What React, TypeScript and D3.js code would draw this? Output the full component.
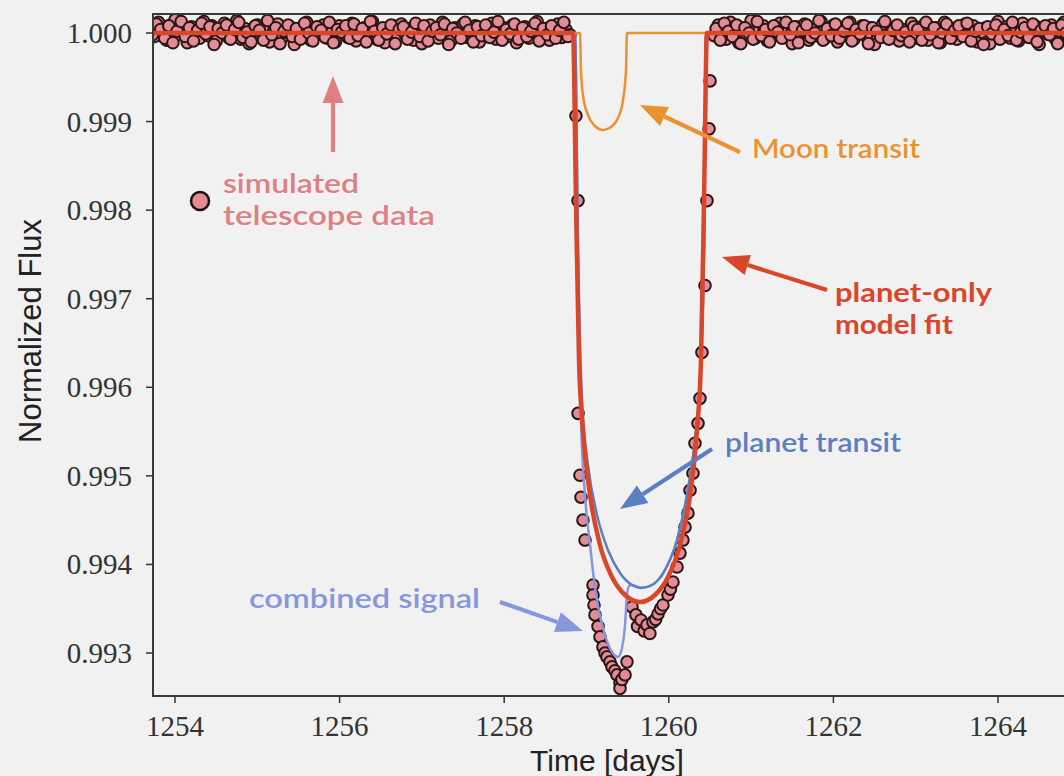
import React from 'react';
import * as d3 from 'd3';

// out-of-transit photometry, offsets from 1.0 in ppm, one value per cadence
const quietStarts = [1253.7, 1260.55];
const cadence = 0.05;
const quietLeft = [
  60, -40, 120, 30, -80, 90, 150, -20, 40, -110,
  70, 10, -60, 130, -30, 80, -90, 20, 110, -50,
  0, 140, -70, 50, -120, 30, 90, -40, 60, -100,
  20, 100, -60, 10, 70, -130, 40, -20, 120, -80,
  50, -10, 90, -60, 30, -100, 80, 0, -50, 110,
  -90, 20, 60, -30, 130, -70, 40, -110, 10, 80,
  -40, 100, -20, 50, -80, 70, -120, 30, 90, -10,
  -60, 120, 20, -90, 60, -30, 100, -50, 10, 80,
  -100, 40, -20, 110, -70, 30, 60, -40, 90, -110,
  20, 70, -60, 10, 130, -30, 50, -80, 20, 100,
  -50, 40, -20,
];
// the in-between cadences (offset by half a step)
const quietLeftB = [
  -20, 100, 40, -60, 80, -110, 20, 130, -40, 60,
  -90, 30, 110, -10, 70, -130, 50, 0, 90, -70,
  40, 120, -50, 10, -100, 80, 30, -80, 140, -20,
  60, -120, 20, 90, -40, 50, -70, 110, 0, -90,
  70, 30, -50, 120, -110, 40, 10, 80, -60, 100,
  -30, 50, -100, 130, 20, -80, 60, -10, 90, -120,
  40, 70, -70, 10, 110, -40, 80, -90, 20, 60,
  -20, 100, -130, 50, 0, -60, 120, 30, -100, 70,
  -30, 90, -50, 10, 130, -80, 40, -10, 100, -70,
  60, -40, 20, 110, -90, 50, -20, 80, -60, 30,
  120, -40,
];
const quietRight = [
  -30, 90, 40, -70, 120, 10, -110, 60, -20, 140,
  -60, 30, 80, -90, 50, -10, 110, -50, 20, -120,
  70, 0, 100, -80, 40, -30, 130, -60, 10, 90,
  -100, 50, -20, 120, -70, 30, 80, -40, 60, -130,
  20, 100, -50, 10, 70, -90, 40, -10, 110, -60,
  30, 90, -80, 0, 60, -110, 120, -30, 50, -70,
  20, 100, -40, 80, -100, 10, 60, -120, 40, 130,
  -20, 70, -60, 30, -90, 110, 0, -50, 80, -130,
  50, -10, 90, -70, 20, 120, -40, 60, -100, 10,
  -30, 70,
];
const quietRightB = [
  50, -80, 110, 20, -40, 90, -120, 60, 0, -70,
  130, -30, 40, -100, 80, 10, -60, 120, -20, 70,
  -110, 30, 90, -50, 0, 140, -80, 50, -30, 100,
  -60, 20, 110, -90, 40, -10, 80, -120, 60, 20,
  -50, 130, -70, 30, 90, -30, 10, -100, 70, 40,
  -80, 120, -20, 60, -110, 0, 100, -60, 30, 80,
  -40, 110, -90, 20, 50, -130, 70, -10, 90, -70,
  40, -30, 120, -80, 10, 60, -50, 100, -100, 30,
  80, -20, 50, -120, 90, 0, -60, 110, -40, 20,
  -90,
];

// in-transit photometry
const dipTimes = [
  1258.872, 1258.897, 1258.897, 1258.921, 1258.933, 1258.957, 1258.982,
  1259.079, 1259.079, 1259.091, 1259.103, 1259.140, 1259.164, 1259.200,
  1259.225, 1259.249, 1259.285, 1259.310, 1259.345, 1259.371, 1259.407,
  1259.407, 1259.430, 1259.468, 1259.492, 1259.553, 1259.601, 1259.620,
  1259.662, 1259.700, 1259.735, 1259.770, 1259.808, 1259.840, 1259.869,
  1259.900, 1259.929, 1259.990, 1260.020, 1260.051, 1260.100, 1260.136,
  1260.172, 1260.197, 1260.233, 1260.258, 1260.294, 1260.318, 1260.355,
  1260.379, 1260.403, 1260.440, 1260.464, 1260.489, 1260.501,
];
const dipFlux = [
  0.999065, 0.998107, 0.995706, 0.995007, 0.994759, 0.9945, 0.994275,
  0.993768, 0.993655, 0.993542, 0.99343, 0.9933, 0.993182, 0.993069,
  0.993, 0.992956, 0.9929, 0.992843, 0.9928, 0.992753, 0.992663,
  0.9926, 0.9927, 0.992753, 0.9929, 0.99352, 0.99343, 0.9933,
  0.993373, 0.99325, 0.993317, 0.99322, 0.993351, 0.99338, 0.993441,
  0.9935, 0.993542, 0.993655, 0.99372, 0.993801, 0.993971, 0.994128,
  0.994275, 0.994421, 0.994579, 0.994838, 0.99503, 0.995368, 0.995593,
  0.995875, 0.996394, 0.997149, 0.998107, 0.998918, 0.999459,
];

// models
const fitTimes = [
  1253.5, 1258.836, 1258.872, 1258.909, 1258.957, 1259.043, 1259.164, 1259.31,
  1259.468, 1259.65, 1259.832, 1259.99, 1260.136, 1260.258, 1260.343, 1260.391,
  1260.428, 1260.464, 1265.5,
];
const fitFlux = [
  1, 1, 0.998115, 0.996308, 0.995518, 0.994784, 0.99422, 0.993858,
  0.993655, 0.993576, 0.993655, 0.993858, 0.99422, 0.994784, 0.995518, 0.996308,
  0.998115, 1, 1,
];
const planetTimes = [
  1253.5, 1258.86, 1258.897, 1258.945, 1259.018, 1259.128, 1259.261, 1259.407,
  1259.553, 1259.662, 1259.796, 1259.954, 1260.1, 1260.221, 1260.318, 1260.379,
  1260.428, 1260.452, 1265.5,
];
const planetFlux = [
  1, 1, 0.99755, 0.995857, 0.995123, 0.994558, 0.994163, 0.993903,
  0.993768, 0.993734, 0.993768, 0.993937, 0.994276, 0.994784, 0.995405, 0.996082,
  0.99755, 1, 1,
];
const combinedTimes = [
  1253.5, 1258.86, 1258.897, 1258.933, 1258.982, 1259.043, 1259.116, 1259.213,
  1259.31, 1259.383, 1259.431, 1259.468, 1259.492, 1259.517, 1259.553, 1259.662,
  1259.796, 1259.954, 1260.1, 1260.221, 1260.318, 1260.379, 1260.428, 1260.452,
  1265.5,
];
const combinedFlux = [
  1, 1, 0.99755, 0.995631, 0.994784, 0.99422, 0.993655, 0.993237,
  0.993011, 0.992955, 0.993057, 0.993316, 0.993655, 0.993757, 0.993768, 0.993734,
  0.993768, 0.993937, 0.994276, 0.994784, 0.995405, 0.996082, 0.99755, 1,
  1,
];
const moonTimes = [
  1253.5, 1258.921, 1258.933, 1258.957, 1259.018, 1259.103, 1259.2, 1259.298,
  1259.383, 1259.444, 1259.48, 1259.492, 1265.5,
];
const moonFlux = [
  1, 1, 0.999582, 0.9993, 0.999074, 0.99895, 0.998905, 0.998939,
  0.99904, 0.999244, 0.999582, 1, 1,
];

const xTicks = [1254, 1256, 1258, 1260, 1262, 1264];
const yTicks = [0.993, 0.994, 0.995, 0.996, 0.997, 0.998, 0.999, 1.0];

const W = 1064;
const H = 776;
const left = 153;
const top = 14;
const bottom = 696;

const pink = '#e38c95';
const orange = '#eb9230';
const red = '#d9462a';
const blue = '#5b7fc0';
const lavender = '#8797dc';

const App = () => {
  const ref = React.useRef<SVGSVGElement>(null);

  React.useEffect(() => {
    const svg = d3.select(ref.current);
    svg.selectAll('*').remove();

    const x = d3.scaleLinear().domain([1254, 1264]).range([175, 998]);
    const y = d3.scaleLinear().domain([0.993, 1.0]).range([653, 33]);

    svg.append('rect').attr('width', W).attr('height', H).attr('fill', '#f1f1f1');

    svg.append('clipPath').attr('id', 'plot-clip')
      .append('rect')
      .attr('x', left).attr('y', top)
      .attr('width', W - left + 10).attr('height', bottom - top);

    const plot = svg.append('g').attr('clip-path', 'url(#plot-clip)');

    const pts: [number, number][] = [];
    const half = cadence / 2;
    quietLeft.forEach((v, i) => pts.push([quietStarts[0] + i * cadence, 1 + v * 1e-6]));
    quietLeftB.forEach((v, i) => pts.push([quietStarts[0] + half + i * cadence, 1 + v * 1e-6]));
    quietRight.forEach((v, i) => pts.push([quietStarts[1] + i * cadence, 1 + v * 1e-6]));
    quietRightB.forEach((v, i) => pts.push([quietStarts[1] + half + i * cadence, 1 + v * 1e-6]));
    dipTimes.forEach((t, i) => pts.push([t, dipFlux[i]]));

    plot.append('g')
      .selectAll('circle')
      .data(pts)
      .join('circle')
      .attr('cx', d => x(d[0]))
      .attr('cy', d => y(d[1]))
      .attr('r', 5.8)
      .attr('fill', pink)
      .attr('stroke', '#2a1616')
      .attr('stroke-width', 2);

    const line = d3.line<[number, number]>()
      .x(d => x(d[0]))
      .y(d => y(d[1]))
      .curve(d3.curveMonotoneX);

    const curve = (ts: number[], fs: number[], color: string, width: number) => {
      plot.append('path')
        .datum(ts.map((t, i) => [t, fs[i]] as [number, number]))
        .attr('fill', 'none')
        .attr('stroke', color)
        .attr('stroke-width', width)
        .attr('stroke-linejoin', 'round')
        .attr('d', line);
    };
    curve(combinedTimes, combinedFlux, lavender, 2.5);
    curve(planetTimes, planetFlux, blue, 2.5);
    curve(moonTimes, moonFlux, orange, 2.5);
    curve(fitTimes, fitFlux, red, 4.5);

    // frame
    const frame = svg.append('g').attr('stroke', '#3a3a3a').attr('stroke-width', 2).attr('fill', 'none');
    frame.append('path').attr('d', `M${W + 5},${top}H${left}V${bottom}H${W + 5}`);

    // y axis
    const yAxis = svg.append('g');
    yTicks.forEach(v => {
      yAxis.append('line')
        .attr('x1', left - 7).attr('x2', left)
        .attr('y1', y(v)).attr('y2', y(v))
        .attr('stroke', '#333').attr('stroke-width', 1.5);
      yAxis.append('text')
        .attr('x', left - 21).attr('y', y(v) + 10)
        .attr('text-anchor', 'end')
        .attr('font-family', "'Liberation Serif', serif")
        .attr('font-size', 29)
        .attr('fill', '#333')
        .text(d3.format('.3f')(v));
    });

    const xAxis = svg.append('g');
    xTicks.forEach(v => {
      xAxis.append('line')
        .attr('x1', x(v)).attr('x2', x(v))
        .attr('y1', bottom).attr('y2', bottom + 7)
        .attr('stroke', '#333').attr('stroke-width', 1.5);
      xAxis.append('text')
        .attr('x', x(v)).attr('y', bottom + 40)
        .attr('text-anchor', 'middle')
        .attr('font-family', "'Liberation Serif', serif")
        .attr('font-size', 29)
        .attr('fill', '#333')
        .text(v);
    });

    svg.append('text')
      .attr('x', 607).attr('y', 771)
      .attr('text-anchor', 'middle')
      .attr('font-family', "'Liberation Sans', Arial, sans-serif")
      .attr('font-size', 30)
      .attr('fill', '#222')
      .text('Time [days]');

    svg.append('text')
      .attr('transform', 'translate(41,331) rotate(-90)')
      .attr('text-anchor', 'middle')
      .attr('font-family', "'Liberation Sans', Arial, sans-serif")
      .attr('font-size', 31)
      .attr('fill', '#222')
      .text('Normalized Flux');

    // annotations, anchored in data coordinates
    const arrow = (t0: number, f0: number, t1: number, f1: number, color: string) => {
      const x0 = x(t0), y0 = y(f0), x1 = x(t1), y1 = y(f1);
      const a = Math.atan2(y1 - y0, x1 - x0);
      const len = 27, hw = 10.5;
      const bx = x1 - len * Math.cos(a), by = y1 - len * Math.sin(a);
      svg.append('line')
        .attr('x1', x0).attr('y1', y0).attr('x2', bx).attr('y2', by)
        .attr('stroke', color).attr('stroke-width', 4.2);
      svg.append('polygon')
        .attr('points', [
          [x1, y1],
          [bx + hw * Math.sin(a), by - hw * Math.cos(a)],
          [bx - hw * Math.sin(a), by + hw * Math.cos(a)],
        ].map(p => p.join(',')).join(' '))
        .attr('fill', color);
    };
    const label = (t: number, f: number, text: string, color: string, len: number, weight = 600) => {
      svg.append('text')
        .attr('x', x(t)).attr('y', y(f))
        .attr('font-family', "'Lato', 'Open Sans', sans-serif")
        .attr('font-size', 26)
        .attr('font-weight', weight)
        .attr('fill', color)
        .attr('textLength', len)
        .attr('lengthAdjust', 'spacingAndGlyphs')
        .text(text);
    };

    arrow(1255.92, 0.998656, 1255.92, 0.999515, '#de8080');
    label(1254.583, 0.998194, 'simulated', '#de7f82', 136);
    label(1254.583, 0.997832, 'telescope data', '#de7f82', 212);
    svg.append('circle')
      .attr('cx', x(1254.304)).attr('cy', y(0.998103))
      .attr('r', 9)
      .attr('fill', pink).attr('stroke', '#1e1010').attr('stroke-width', 2.5);

    arrow(1260.865, 0.998656, 1259.65, 0.999187, orange);
    label(1261.011, 0.998589, 'Moon transit', orange, 168);

    arrow(1261.922, 0.997098, 1260.646, 0.997471, red);
    label(1262.019, 0.996963, 'planet-only', red, 157, 700);
    label(1262.019, 0.996602, 'model fit', red, 118, 700);

    arrow(1260.525, 0.995303, 1259.407, 0.994626, blue);
    label(1260.683, 0.995269, 'planet transit', blue, 176);

    arrow(1257.949, 0.993576, 1258.957, 0.993248, lavender);
    label(1254.899, 0.993508, 'combined signal', lavender, 231);
  }, []);

  return (
    <svg
      ref={ref}
      width={W}
      height={H}
      style={{ position: 'absolute', left: 0, top: 0, display: 'block' }}
    />
  );
};

export default App;
